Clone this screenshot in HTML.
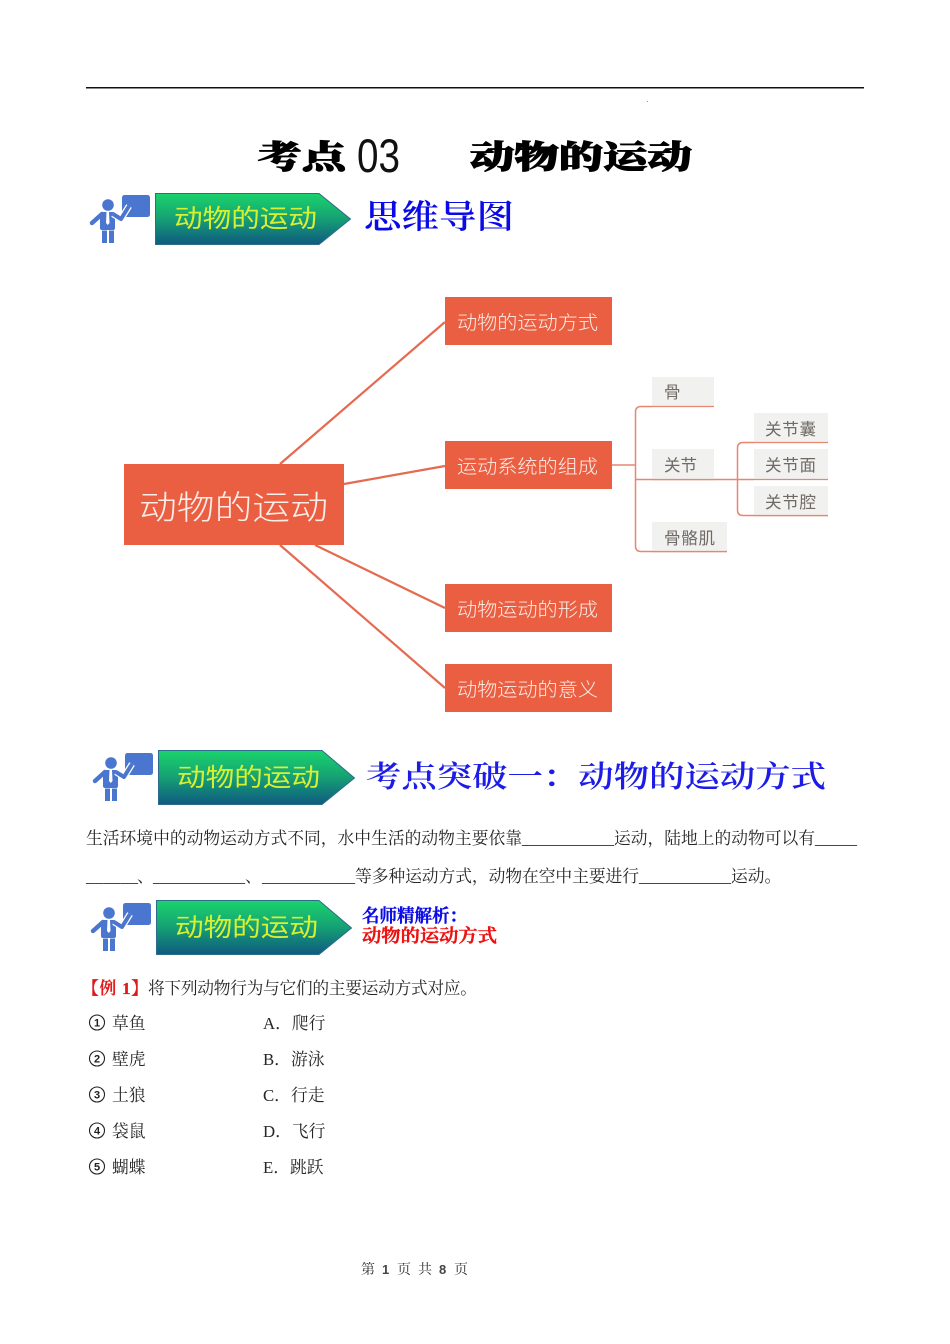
<!DOCTYPE html>
<html lang="zh">
<head>
<meta charset="utf-8">
<title>考点03 动物的运动</title>
<style>
html,body{margin:0;padding:0;background:#fff}
svg{display:block}
.b{font-family:"Liberation Serif","Noto Serif CJK SC",serif;font-size:16.77px;fill:#262626}
.w{font-family:"Liberation Sans","Noto Sans CJK SC",sans-serif;fill:#fbeee9;font-weight:300}
.g{font-family:"Liberation Sans","Noto Sans CJK SC",sans-serif;fill:#6f6a64;font-size:16.500px}
.y{font-family:"Liberation Sans","Noto Sans CJK SC",sans-serif;fill:#d8f032;font-size:25px;font-weight:400}
.h{font-family:"Liberation Serif","Noto Serif CJK SC",serif;font-weight:600}
</style>
</head>
<body>
<svg width="950" height="1344" viewBox="0 0 950 1344" xmlns="http://www.w3.org/2000/svg" style="width:950px;height:1344px">
<defs>
<linearGradient id="gr" x1="0" y1="0" x2="0" y2="1">
<stop offset="0" stop-color="#1ad36b"/><stop offset=".45" stop-color="#16a673"/><stop offset="1" stop-color="#0f5a80"/>
</linearGradient>
<g id="icon">
<rect x="-33" y="2" width="28" height="22" rx="2.500" fill="#4a76cf"/>
<circle cx="-47" cy="12" r="5.800" fill="#4a76cf"/>
<rect x="-55" y="19" width="15" height="18" rx="2" fill="#4a76cf"/>
<path d="M-53 21 L-63 30" stroke="#4a76cf" stroke-width="4.500" stroke-linecap="round" fill="none"/>
<path d="M-42 21 L-34 26 L-26 13" stroke="#fff" stroke-width="6.500" stroke-linejoin="round" fill="none"/>
<path d="M-42 21 L-34 26 L-26 13" stroke="#4a76cf" stroke-width="4" stroke-linejoin="round" fill="none"/>
<path d="M-53 37.500 H-48 V50 H-53 Z M-46 37.500 H-41 V50 H-46 Z" fill="#4a76cf"/>
<path d="M-48.500 19 H-46 L-45.500 30 L-47.200 32 L-49 30 Z" fill="#fff"/>
</g>
</defs>

<rect x="86" y="87" width="778" height="1.500" fill="#111"/>
<rect x="647" y="101" width="1" height="1" fill="#999"/>

<!-- Title -->
<g font-family="'Liberation Serif','Noto Serif CJK SC',serif" font-weight="900" fill="#000" stroke="#000" stroke-width="1">
<text x="258" y="168" font-size="32" textLength="88" lengthAdjust="spacingAndGlyphs">考点</text>
<text x="470" y="168" font-size="32" textLength="222" lengthAdjust="spacingAndGlyphs">动物的运动</text>
</g>
<text x="357" y="172" font-family="'Liberation Sans',sans-serif" font-size="47" fill="#111" textLength="43" lengthAdjust="spacingAndGlyphs">03</text>

<!-- Banner 1 -->
<use href="#icon" x="155" y="193"/>
<path d="M155.500 193.500 H319 L350.500 219 L319 244.500 H155.500 Z" fill="url(#gr)" stroke="#2c6c8c"/>
<text class="y" x="174" y="227" textLength="143" lengthAdjust="spacingAndGlyphs">动物的运动</text>
<text class="h" x="364" y="228" font-size="33" fill="#0a0ae6" textLength="150" lengthAdjust="spacingAndGlyphs">思维导图</text>

<!-- Mind map connectors -->
<g fill="none" stroke="#e56a50" stroke-width="2.200">
<path d="M280 464 L445 322"/>
<path d="M344 484 L445 466"/>
<path d="M315 545 L445 608"/>
<path d="M280 545 L445 688"/>
</g>
<g fill="none" stroke="#e8866f" stroke-width="1.500">
<path d="M612 465 H635"/>
<path d="M652 406.500 H641 Q635.500 406.500 635.500 412 V546 Q635.500 551.500 641 551.500 H727"/>
<path d="M635.500 479.500 H754"/>
<path d="M754 442.500 H743 Q737.500 442.500 737.500 448 V510 Q737.500 515.500 743 515.500 H828"/>
</g>
<!-- Mind map nodes -->
<rect x="124" y="464" width="220" height="81" fill="#ea5f42"/>
<text class="w" x="139" y="519" font-size="33" textLength="189" lengthAdjust="spacingAndGlyphs">动物的运动</text>
<g fill="#ea5f42">
<rect x="445" y="297" width="167" height="48"/>
<rect x="445" y="441" width="167" height="48"/>
<rect x="445" y="584" width="167" height="48"/>
<rect x="445" y="664" width="167" height="48"/>
</g>
<text class="w" x="457" y="329" font-size="19" textLength="141" lengthAdjust="spacingAndGlyphs">动物的运动方式</text>
<text class="w" x="457" y="473" font-size="19" textLength="141" lengthAdjust="spacingAndGlyphs">运动系统的组成</text>
<text class="w" x="457" y="616" font-size="19" textLength="141" lengthAdjust="spacingAndGlyphs">动物运动的形成</text>
<text class="w" x="457" y="696" font-size="19" textLength="141" lengthAdjust="spacingAndGlyphs">动物运动的意义</text>
<g fill="#f1f1f0">
<rect x="652" y="377" width="62" height="29"/>
<rect x="652" y="449" width="62" height="30"/>
<rect x="652" y="522" width="75" height="29"/>
<rect x="754" y="413" width="74" height="29"/>
<rect x="754" y="449" width="74" height="30"/>
<rect x="754" y="486" width="74" height="29"/>
</g>
<g fill="none" stroke="#e8866f" stroke-width="1.300">
<path d="M652 406.500 H714"/><path d="M652 479.500 H714"/><path d="M652 551.500 H727"/>
<path d="M754 442.500 H828"/><path d="M754 479.500 H828"/><path d="M754 515.500 H828"/>
</g>
<text class="g" x="664" y="398">骨</text>
<text class="g" x="664" y="471" textLength="33">关节</text>
<text class="g" x="664" y="544" textLength="51">骨骼肌</text>
<text class="g" x="765" y="435" textLength="51">关节囊</text>
<text class="g" x="765" y="471" textLength="51">关节面</text>
<text class="g" x="765" y="508" textLength="51">关节腔</text>

<!-- Banner 2 -->
<use href="#icon" x="158" y="751"/>
<path d="M158.500 750.500 H322 L354.500 778 L322 804.500 H158.500 Z" fill="url(#gr)" stroke="#2c6c8c"/>
<text class="y" x="177" y="786" textLength="143" lengthAdjust="spacingAndGlyphs">动物的运动</text>
<text class="h" x="366" y="787" font-size="30" fill="#1c1ce6" textLength="460" lengthAdjust="spacingAndGlyphs">考点突破一：动物的运动方式</text>

<!-- Paragraph -->
<text class="b" x="86" y="844" textLength="436">生活环境中的动物运动方式不同，水中生活的动物主要依靠</text>
<text class="b" x="522" y="844" textLength="92">___________</text>
<text class="b" x="614" y="844" textLength="201">运动，陆地上的动物可以有</text>
<text class="b" x="815" y="844" textLength="42">_____</text>
<text class="b" x="86" y="882" textLength="52">______</text>
<text class="b" x="137" y="882">、</text>
<text class="b" x="153" y="882" textLength="92">___________</text>
<text class="b" x="245" y="882">、</text>
<text class="b" x="262" y="882" textLength="93">___________</text>
<text class="b" x="355" y="882" textLength="284">等多种运动方式，动物在空中主要进行</text>
<text class="b" x="639" y="882" textLength="92">___________</text>
<text class="b" x="731" y="882">运动。</text>

<!-- Banner 3 -->
<use href="#icon" x="156" y="901"/>
<path d="M156.500 900.500 H319 L351.500 928 L319 954.500 H156.500 Z" fill="url(#gr)" stroke="#2c6c8c"/>
<text class="y" x="175" y="936" textLength="143" lengthAdjust="spacingAndGlyphs">动物的运动</text>
<text class="h" x="362" y="922" font-size="18" fill="#0a0ae6" stroke="#0a0ae6" stroke-width=".5" textLength="105" lengthAdjust="spacingAndGlyphs">名师精解析：</text>
<text class="h" x="362" y="942" font-size="18" fill="#ee1111" stroke="#ee1111" stroke-width=".5" textLength="135" lengthAdjust="spacingAndGlyphs">动物的运动方式</text>

<!-- Example -->
<text class="h" x="82" y="994" font-size="16.770" fill="#e01818" stroke="#e01818" stroke-width=".3" textLength="66" lengthAdjust="spacing">【例 1】</text>
<text class="b" x="148" y="994" textLength="329">将下列动物行为与它们的主要运动方式对应。</text>

<g fill="none" stroke="#222" stroke-width="1.100">
<circle cx="97" cy="1022.500" r="7.500"/>
<circle cx="97" cy="1058.500" r="7.500"/>
<circle cx="97" cy="1094.500" r="7.500"/>
<circle cx="97" cy="1130.500" r="7.500"/>
<circle cx="97" cy="1166.500" r="7.500"/>
</g>
<g font-family="'Liberation Sans',sans-serif" font-size="11" font-weight="700" fill="#222" text-anchor="middle">
<text x="97" y="1026.500">1</text>
<text x="97" y="1062.500">2</text>
<text x="97" y="1098.500">3</text>
<text x="97" y="1134.500">4</text>
<text x="97" y="1170.500">5</text>
</g>
<text class="b" x="112" y="1029">草鱼</text>
<text class="b" x="112" y="1065">壁虎</text>
<text class="b" x="112" y="1101">土狼</text>
<text class="b" x="112" y="1137">袋鼠</text>
<text class="b" x="112" y="1173">蝴蝶</text>
<text class="b" x="263" y="1029">A．爬行</text>
<text class="b" x="263" y="1065">B．游泳</text>
<text class="b" x="263" y="1101">C．行走</text>
<text class="b" x="263" y="1137">D．飞行</text>
<text class="b" x="263" y="1173">E．跳跃</text>

<!-- Footer -->
<g font-family="'Liberation Serif','Noto Serif CJK SC',serif" font-size="14" fill="#333">
<text x="361" y="1274">第</text>
<text x="397" y="1274">页</text>
<text x="418" y="1274">共</text>
<text x="454" y="1274">页</text>
</g>
<g font-family="'Liberation Sans',sans-serif" font-size="13" font-weight="700" fill="#444">
<text x="382" y="1274">1</text>
<text x="439" y="1274">8</text>
</g>
</svg>
</body>
</html>
